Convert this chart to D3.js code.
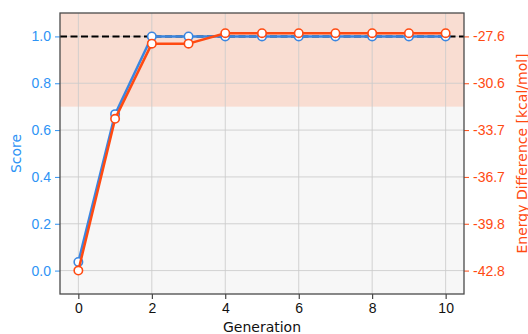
<!DOCTYPE html>
<html>
<head>
<meta charset="utf-8">
<script src="https://cdn.jsdelivr.net/npm/d3@7"></script>
<style>
  html, body { margin: 0; padding: 0; background: #fff; }
  svg { display: block; font-family: "DejaVu Sans", sans-serif; }
</style>
</head>
<body>
<svg id="chart" width="528" height="334"></svg>
<script>
// --- DATA --------------------------------------------------------------------
const generations = [0, 1, 2, 3, 4, 5, 6, 7, 8, 9, 10];
const scores      = [0.037, 0.668, 1.0, 1.0, 1.0, 1.0, 1.0, 1.0, 1.0, 1.0, 1.0];
const energies    = [-42.8, -32.95, -28.07, -28.07, -27.39, -27.39, -27.39, -27.39, -27.39, -27.39, -27.39];
const xTicks      = [0, 2, 4, 6, 8, 10];
const scoreTicks  = [0.0, 0.2, 0.4, 0.6, 0.8, 1.0];
const energyTicks = [-42.8, -39.76, -36.72, -33.68, -30.64, -27.6];
const targetScore = 1.0;
const bandFrom    = 0.7;

// --- STYLE -------------------------------------------------------------------
const W = 528, H = 334;
const M = { top: 13, right: 64, bottom: 40, left: 60 };
const COL = {
  BLUE: '#3b86e0', BLUE_TXT: '#2e93f5', ORANGE: '#ff4a12',
  BAND: '#f9ddd2', BG: '#f7f7f7', GRID: '#cbcbcb', FRAME: '#4a4a4a'
};
const FS = '14px';
const fmt1 = v => d3.format('.1f')(v).replace('\u2212', '-');

const svg = d3.select('#chart');
const iw = W - M.left - M.right, ih = H - M.top - M.bottom;

const x  = d3.scaleLinear().domain([-0.5, 10.5]).range([M.left, M.left + iw]);
const y  = d3.scaleLinear().domain([-0.1, 1.1]).range([M.top + ih, M.top]);
const eMin = energyTicks[0], eMax = energyTicks[energyTicks.length - 1], eSpan = eMax - eMin;
const yE = d3.scaleLinear().domain([eMin - 0.1 * eSpan, eMax + 0.1 * eSpan]).range([M.top + ih, M.top]);

// background + target band
svg.append('rect').attr('x', M.left).attr('y', M.top).attr('width', iw).attr('height', ih).attr('fill', COL.BG);
svg.append('rect').attr('x', M.left).attr('y', M.top)
  .attr('width', iw).attr('height', y(bandFrom) - M.top).attr('fill', COL.BAND);

// grid
const grid = svg.append('g').attr('stroke', COL.GRID).attr('stroke-width', 1).attr('stroke-opacity', 0.85);
grid.selectAll('.gx').data(xTicks).join('line')
  .attr('x1', d => x(d)).attr('x2', d => x(d)).attr('y1', M.top).attr('y2', M.top + ih);
grid.selectAll('.gy').data(scoreTicks).join('line')
  .attr('x1', M.left).attr('x2', M.left + iw).attr('y1', d => y(d)).attr('y2', d => y(d));

// target line
svg.append('line')
  .attr('x1', M.left).attr('x2', M.left + iw)
  .attr('y1', y(targetScore)).attr('y2', y(targetScore))
  .attr('stroke', '#000').attr('stroke-width', 2).attr('stroke-dasharray', '7,3.5');

// series
function series(vals, sy, color) {
  const g = svg.append('g');
  const line = d3.line().x((d, i) => x(generations[i])).y(d => sy(d));
  g.append('path').attr('d', line(vals)).attr('fill', 'none')
    .attr('stroke', color).attr('stroke-width', 2.5).attr('stroke-linejoin', 'round');
  g.selectAll('circle').data(vals).join('circle')
    .attr('cx', (d, i) => x(generations[i])).attr('cy', d => sy(d))
    .attr('r', 4.2).attr('fill', '#fff').attr('stroke', color).attr('stroke-width', 1.6);
}
series(scores, y, COL.BLUE);
series(energies, yE, COL.ORANGE);

// axes
const ax = svg.append('g').attr('transform', `translate(0,${M.top + ih})`)
  .call(d3.axisBottom(x).tickValues(xTicks).tickSize(5).tickPadding(4).tickFormat(d3.format('d')));
ax.select('.domain').remove();
ax.selectAll('text').attr('font-size', FS).attr('fill', '#111');
ax.selectAll('line').attr('stroke', '#222');

const ayl = svg.append('g').attr('transform', `translate(${M.left},0)`)
  .call(d3.axisLeft(y).tickValues(scoreTicks).tickSize(5).tickPadding(4).tickFormat(fmt1));
ayl.select('.domain').remove();
ayl.selectAll('text').attr('font-size', FS).attr('fill', COL.BLUE_TXT);
ayl.selectAll('line').attr('stroke', COL.BLUE_TXT);

const ayr = svg.append('g').attr('transform', `translate(${M.left + iw},0)`)
  .call(d3.axisRight(yE).tickValues(energyTicks).tickSize(5).tickPadding(4).tickFormat(fmt1));
ayr.select('.domain').remove();
ayr.selectAll('text').attr('font-size', FS).attr('fill', COL.ORANGE);
ayr.selectAll('line').attr('stroke', COL.ORANGE);

// frame
svg.append('rect').attr('x', M.left).attr('y', M.top).attr('width', iw).attr('height', ih)
  .attr('fill', 'none').attr('stroke', COL.FRAME).attr('stroke-width', 1.3);

// labels
svg.append('text').attr('x', M.left + iw / 2).attr('y', 332).attr('text-anchor', 'middle')
  .attr('font-size', FS).attr('fill', '#111').text('Generation');
svg.append('text').attr('transform', `translate(21,${y(0.5)}) rotate(-90)`).attr('text-anchor', 'middle')
  .attr('font-size', FS).attr('fill', COL.BLUE_TXT).text('Score');
svg.append('text').attr('transform', `translate(516,${y(0.5)}) rotate(-90)`).attr('text-anchor', 'middle')
  .attr('dy', '0.75em').attr('font-size', FS).attr('fill', COL.ORANGE).text('Energy Difference [kcal/mol]');
</script>
</body>
</html>
